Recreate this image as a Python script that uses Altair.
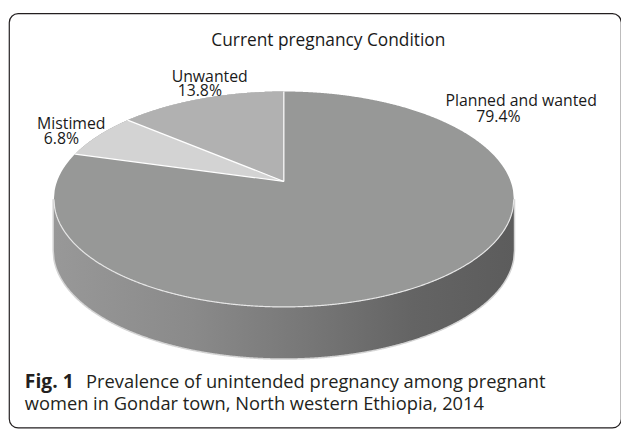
import numpy as np
import pandas as pd
import altair as alt

# ---- data ----
categories = ["Planned and wanted", "Mistimed", "Unwanted"]
values = [79.4, 6.8, 13.8]
pct_labels = ["79.4%", "6.8%", "13.8%"]
slice_colors = ["#979897", "#d3d3d3", "#b1b1b1"]

title_text = "Current pregnancy Condition"
caption_bold = "Fig. 1"
caption_line1 = "Prevalence of unintended pregnancy among pregnant"
caption_line2 = "women in Gondar town, North western Ethiopia, 2014"

# ---- layout (pixel space of the page) ----
VX, VY = 287.0, 181.0          # pie apex on screen
K, D, T = 1390.0, 6.06, 0.462  # perspective projection parameters
DEPTH = 52.0                   # thickness of the 3D pie

X0, X1 = 9, 628
Y0, Y1 = 11, 430
W, H = X1 - X0, Y1 - Y0


def proj(deg):
    th = np.radians(deg)
    den = D + np.cos(th)
    return VX + K * np.sin(th) / den, VY - T * K * np.cos(th) / den


A = K / np.sqrt(D * D - 1)
B = T * K * D / (D * D - 1)
ECY = VY + T * K / (D * D - 1)

# cumulative angles from the values (clockwise from 12 o'clock)
total = sum(values)
ends = np.cumsum(values) / total * 360.0
starts = np.concatenate([[0.0], ends[:-1]])

# top face (whole ellipse, in the first slice colour)
xs = np.linspace(VX - A, VX + A, 600)
hh = B * np.sqrt(np.clip(1 - ((xs - VX) / A) ** 2, 0, None))
top_df = pd.DataFrame({"x": xs, "y": ECY - hh, "y2": ECY + hh})
side_df = pd.DataFrame({"x": xs, "y": ECY + hh, "y2": ECY + hh + DEPTH})
edge_df = pd.DataFrame({"x": xs, "y": ECY + hh})


def wedge(start_deg):
    th = np.linspace(start_deg, 360.0, 200)
    px, py = proj(th)
    bx, by = proj(start_deg)
    ray = VY + (by - VY) * (VX - px) / (VX - bx)
    return pd.DataFrame({"x": px, "y": py, "y2": ray})


# Mistimed + Unwanted wedge, then Unwanted on top
w1 = wedge(starts[1])
w2 = wedge(starts[2])

rules = []
for a in [0.0, starts[1], starts[2]]:
    bx, by = proj(a)
    rules.append({"x": VX, "y": VY, "x2": bx, "y2": by})
rules_df = pd.DataFrame(rules)

xs_ = alt.Scale(domain=[X0, X1], nice=False, zero=False)
ys_ = alt.Scale(domain=[Y0, Y1], nice=False, zero=False, reverse=True)


def X(f="x"):
    return alt.X(f"{f}:Q", scale=xs_, axis=None)


def Y(f="y"):
    return alt.Y(f"{f}:Q", scale=ys_, axis=None)


grad = alt.LinearGradient(
    gradient="linear",
    stops=[
        alt.GradientStop(color="#989898", offset=0),
        alt.GradientStop(color="#8a8a8a", offset=0.3),
        alt.GradientStop(color="#777777", offset=0.55),
        alt.GradientStop(color="#646464", offset=0.78),
        alt.GradientStop(color="#5c5c5c", offset=1),
    ],
    x1=0, x2=1, y1=0, y2=0,
)

side_glow = alt.Chart(side_df).mark_area(
    fill="#d9d9d9", stroke="#d4d4d4", strokeWidth=3
).encode(x=X(), y=Y(), y2="y2:Q")
side = alt.Chart(side_df).mark_area(color=grad).encode(x=X(), y=Y(), y2="y2:Q")
top = alt.Chart(top_df).mark_area(color=slice_colors[0]).encode(x=X(), y=Y(), y2="y2:Q")
edge = alt.Chart(edge_df).mark_line(color="#e6e6e6", strokeWidth=1.2).encode(x=X(), y=Y())
wedge1 = alt.Chart(w1).mark_area(color=slice_colors[1]).encode(x=X(), y=Y(), y2="y2:Q")
wedge2 = alt.Chart(w2).mark_area(color=slice_colors[2]).encode(x=X(), y=Y(), y2="y2:Q")
seps = alt.Chart(rules_df).mark_rule(color="white", strokeWidth=1.2).encode(
    x=X(), y=Y(), x2="x2:Q", y2="y2:Q"
)

# slice labels (name line and percent line, placed as in the reference)
lab_df = pd.DataFrame({
    "text": [categories[0], pct_labels[0], categories[1], pct_labels[1], categories[2], pct_labels[2]],
    "x": [527, 504, 72, 62, 212, 202],
    "y": [105, 121, 128, 143, 80, 95],
})
labels = alt.Chart(lab_df).mark_text(
    font="Open Sans", fontSize=16, color="#1a1a1a", align="center", baseline="alphabetic"
).encode(x=X(), y=Y(), text="text:N")

title = alt.Chart(pd.DataFrame({"text": [title_text], "x": [332], "y": [44]})).mark_text(
    font="Open Sans", fontSize=17.5, color="#1a1a1a", align="center", baseline="alphabetic"
).encode(x=X(), y=Y(), text="text:N")

cap_b = alt.Chart(pd.DataFrame({"text": [caption_bold], "x": [25], "y": [390]})).mark_text(
    font="Open Sans", fontSize=19.5, fontWeight="bold", color="#231f20", align="left",
    baseline="alphabetic"
).encode(x=X(), y=Y(), text="text:N")

cap_r = alt.Chart(pd.DataFrame({"text": [caption_line1, caption_line2],
                                "x": [87, 25], "y": [390, 412]})).mark_text(
    font="Open Sans", fontSize=18.5, color="#231f20", align="left", baseline="alphabetic"
).encode(x=X(), y=Y(), text="text:N")

chart = alt.layer(
    side_glow, side, top, edge, wedge1, wedge2, seps, labels, title, cap_b, cap_r
).properties(
    width=W, height=H, padding={"left": 1, "top": 3, "right": 0, "bottom": 0},
    autosize=alt.AutoSizeParams(type="none"), background="white"
).configure_view(stroke="#231f20", strokeWidth=1.2, cornerRadius=9)

chart.save("out.html", embed_options={"renderer": "svg", "actions": False})
